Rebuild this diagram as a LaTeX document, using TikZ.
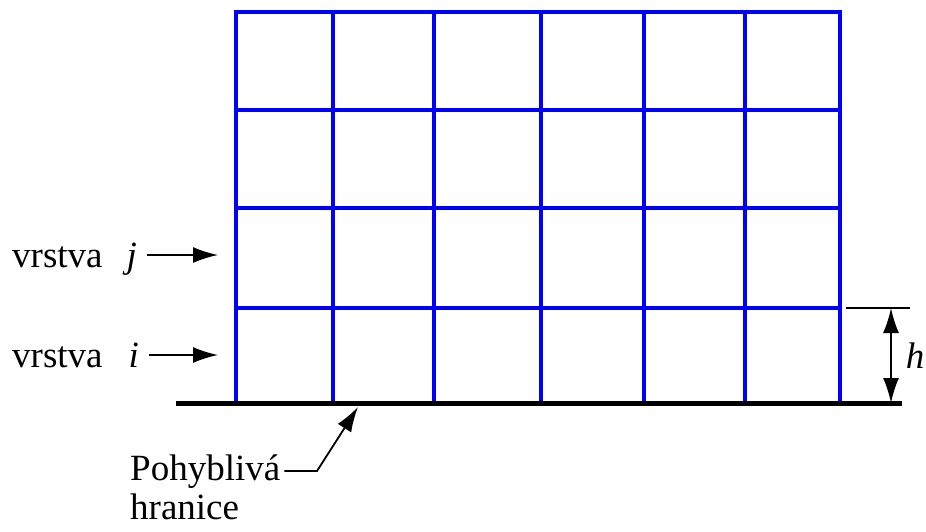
\documentclass[tikz,border=0pt]{standalone}
\usepackage{fontspec}
\setmainfont{Liberation Serif}
\usetikzlibrary{arrows.meta,positioning}

\tikzset{
  mesh/.style={draw=blue,line width=3.6pt,line cap=rect},
  pointer/.style={->,line width=1.8pt},
  txt/.style={font=\fontsize{37}{40}\selectfont,inner sep=0pt}
}

\begin{document}
\begin{tikzpicture}[x=1pt,y=-1pt,>={Latex[length=25pt,width=16pt]}]
  \useasboundingbox (0,0) rectangle (926,531);

  % grid of layers
  \foreach \x in {236,333,434,541,644,745,840}
    \draw[mesh] (\x,12) -- (\x,403);
  \foreach \y in {12,110,208,308}
    \draw[mesh] (236,\y) -- (840,\y);

  % moving boundary
  \coordinate (gl) at (176,403);
  \coordinate (gr) at (902,403);
  \draw[line width=5pt] (gl) -- (gr);

  % layer labels
  \node (vj) [txt,anchor=base west] at (12,267) {vrstva\hspace{24pt}\textit{j}};
  \node (vi) [txt,anchor=base west] at (12,367) {vrstva\hspace{26pt}\textit{i}};
  \coordinate (tj) at (218,255);
  \coordinate (ti) at (218,355);
  \draw[pointer] (vj.east |- tj) ++(10,0) -- (tj);
  \draw[pointer] (vi.east |- ti) ++(10,0) -- (ti);

  % layer height
  \coordinate (ht) at (846,308);
  \coordinate (hr) at (910,308);
  \draw[line width=1.2pt] (ht) -- (hr);
  \coordinate (ha) at (891,308);
  \coordinate (hb) at (891,403);
  \draw[<->,line width=1.8pt] (ha) -- node[txt,right=14pt] {\textit{h}} (hb);

  % boundary label
  \node (pohyb) [txt,anchor=base west] at (130,480) {Pohyblivá};
  \node (hran) [txt,anchor=base west] at (130,519) {hranice};
  \coordinate (knee) at (317,471);
  \coordinate (end) at (358,407);
  \draw[pointer] (pohyb.east |- knee) ++(4,0) -- (knee) -- (end);

\end{tikzpicture}
\end{document}
